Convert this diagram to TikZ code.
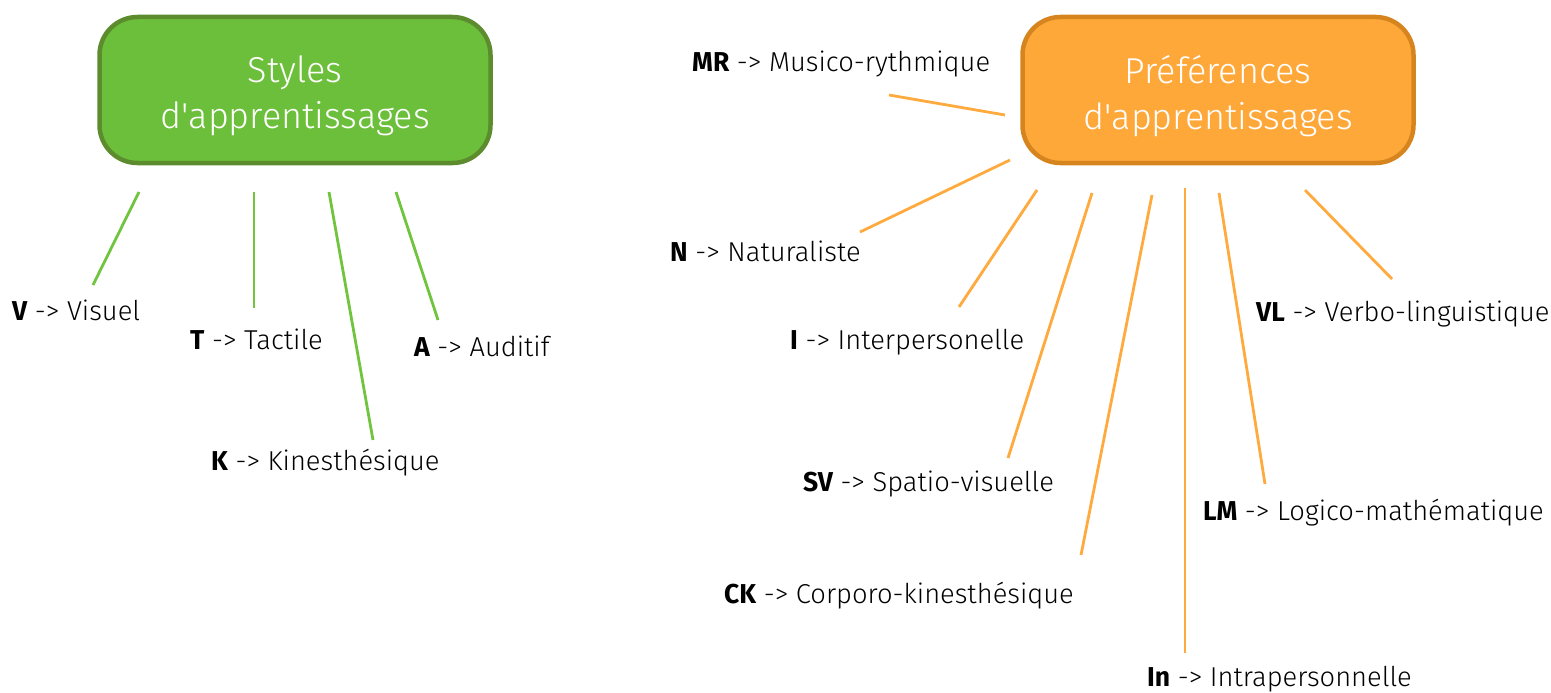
\documentclass[tikz,border=0pt]{standalone}
\usepackage{fontspec}
\setmainfont{Fira Sans}[UprightFont=* Light, BoldFont=* Bold]
\newfontfamily\abbrfont{Fira Sans}[UprightFont=* Bold, FakeStretch=0.97]
\usepackage{xcolor}
\definecolor{stygreen}{RGB}{108,191,58}
\definecolor{stygreenb}{RGB}{92,140,46}
\definecolor{preforange}{RGB}{255,168,58}
\definecolor{preforangeb}{RGB}{214,133,30}
\definecolor{glinec}{RGB}{112,196,62}
\definecolor{olinec}{RGB}{255,170,62}
\tikzset{%
    headbox/.style={%
        draw, rounded corners=38pt, line width=4.5pt,
        minimum width=391pt, minimum height=146pt
    },
    headtext/.style={%
        text=white, align=center, inner sep=0pt,
        font=\fontsize{36}{46}\selectfont
    },
    item/.style={anchor=base west, inner sep=0pt, font=\fontsize{27.3}{31}\selectfont},
    gline/.style={draw=glinec, line width=2.8pt},
    oline/.style={draw=olinec, line width=2.8pt}
}
\newcommand{\abr}[2]{{\abbrfont #1}\ -> #2}

\begin{document}
\begin{tikzpicture}[x=1pt,y=-1pt]
  \useasboundingbox (0,0) rectangle (1551,693);

  % the two headings
  \node[headbox, fill=stygreen, draw=stygreenb] (sty) at (295,90) {};
  \node[headtext] (stytext) at ([yshift=-6pt]sty.center)
      {Styles\\d\textquotesingle apprentissages};
  \node[headbox, fill=preforange, draw=preforangeb] (pref) at (1218,90) {};
  \node[headtext] (preftext) at ([yshift=-6pt]pref.center)
      {Préférences\\d\textquotesingle apprentissages};

  % styles
  \node[item] (V) at (12,320)  {\abr{V}{Visuel}};
  \node[item] (T) at (190,349) {\abr{T}{Tactile}};
  \node[item] (K) at (211,470) {\abr{K}{Kinesthésique}};
  \node[item] (A) at (414,356) {\abr{A}{Auditif}};

  % preferences
  \node[item] (MR) at (692,72)  {\abr{MR}{Musico-rythmique}};
  \node[item] (N)  at (670,261) {\abr{N}{Naturaliste}};
  \node[item] (I)  at (790,349) {\abr{I}{Interpersonelle}};
  \node[item] (SV) at (803,491) {\abr{SV}{Spatio-visuelle}};
  \node[item] (CK) at (724,603) {\abr{CK}{Corporo-kinesthésique}};
  \node[item] (In) at (1147,686) {\abr{In}{Intrapersonnelle}};
  \node[item] (LM) at (1203,520) {\abr{LM}{Logico-mathématique}};
  \node[item] (VL) at (1256,321) {\abr{VL}{Verbo-linguistique}};

  % line ends
  \coordinate (v0) at (139,192);  \coordinate (v1) at (93,285);
  \coordinate (t0) at (254,192);  \coordinate (t1) at (254,308);
  \coordinate (k0) at (329,192);  \coordinate (k1) at (373,440);
  \coordinate (a0) at (396,192);  \coordinate (a1) at (438,320);
  \coordinate (mr0) at (1005,115); \coordinate (mr1) at (889,95);
  \coordinate (n0) at (1010,160);  \coordinate (n1) at (860,232);
  \coordinate (i0) at (1037,190);  \coordinate (i1) at (959,307);
  \coordinate (sv0) at (1092,193); \coordinate (sv1) at (1008,458);
  \coordinate (ck0) at (1152,195); \coordinate (ck1) at (1081,555);
  \coordinate (in0) at (1185,188); \coordinate (in1) at (1185,653);
  \coordinate (lm0) at (1219,193); \coordinate (lm1) at (1265,484);
  \coordinate (vl0) at (1305,190); \coordinate (vl1) at (1392,279);

\path[gline]
	(v0) edge (v1)
	(t0) edge (t1)
	(k0) edge (k1)
	(a0) edge (a1);
\path[oline]
	(mr0) edge (mr1)
	(n0) edge (n1)
	(i0) edge (i1)
	(sv0) edge (sv1)
	(ck0) edge (ck1)
	(in0) edge (in1)
	(lm0) edge (lm1)
	(vl0) edge (vl1);
\end{tikzpicture}
\end{document}
